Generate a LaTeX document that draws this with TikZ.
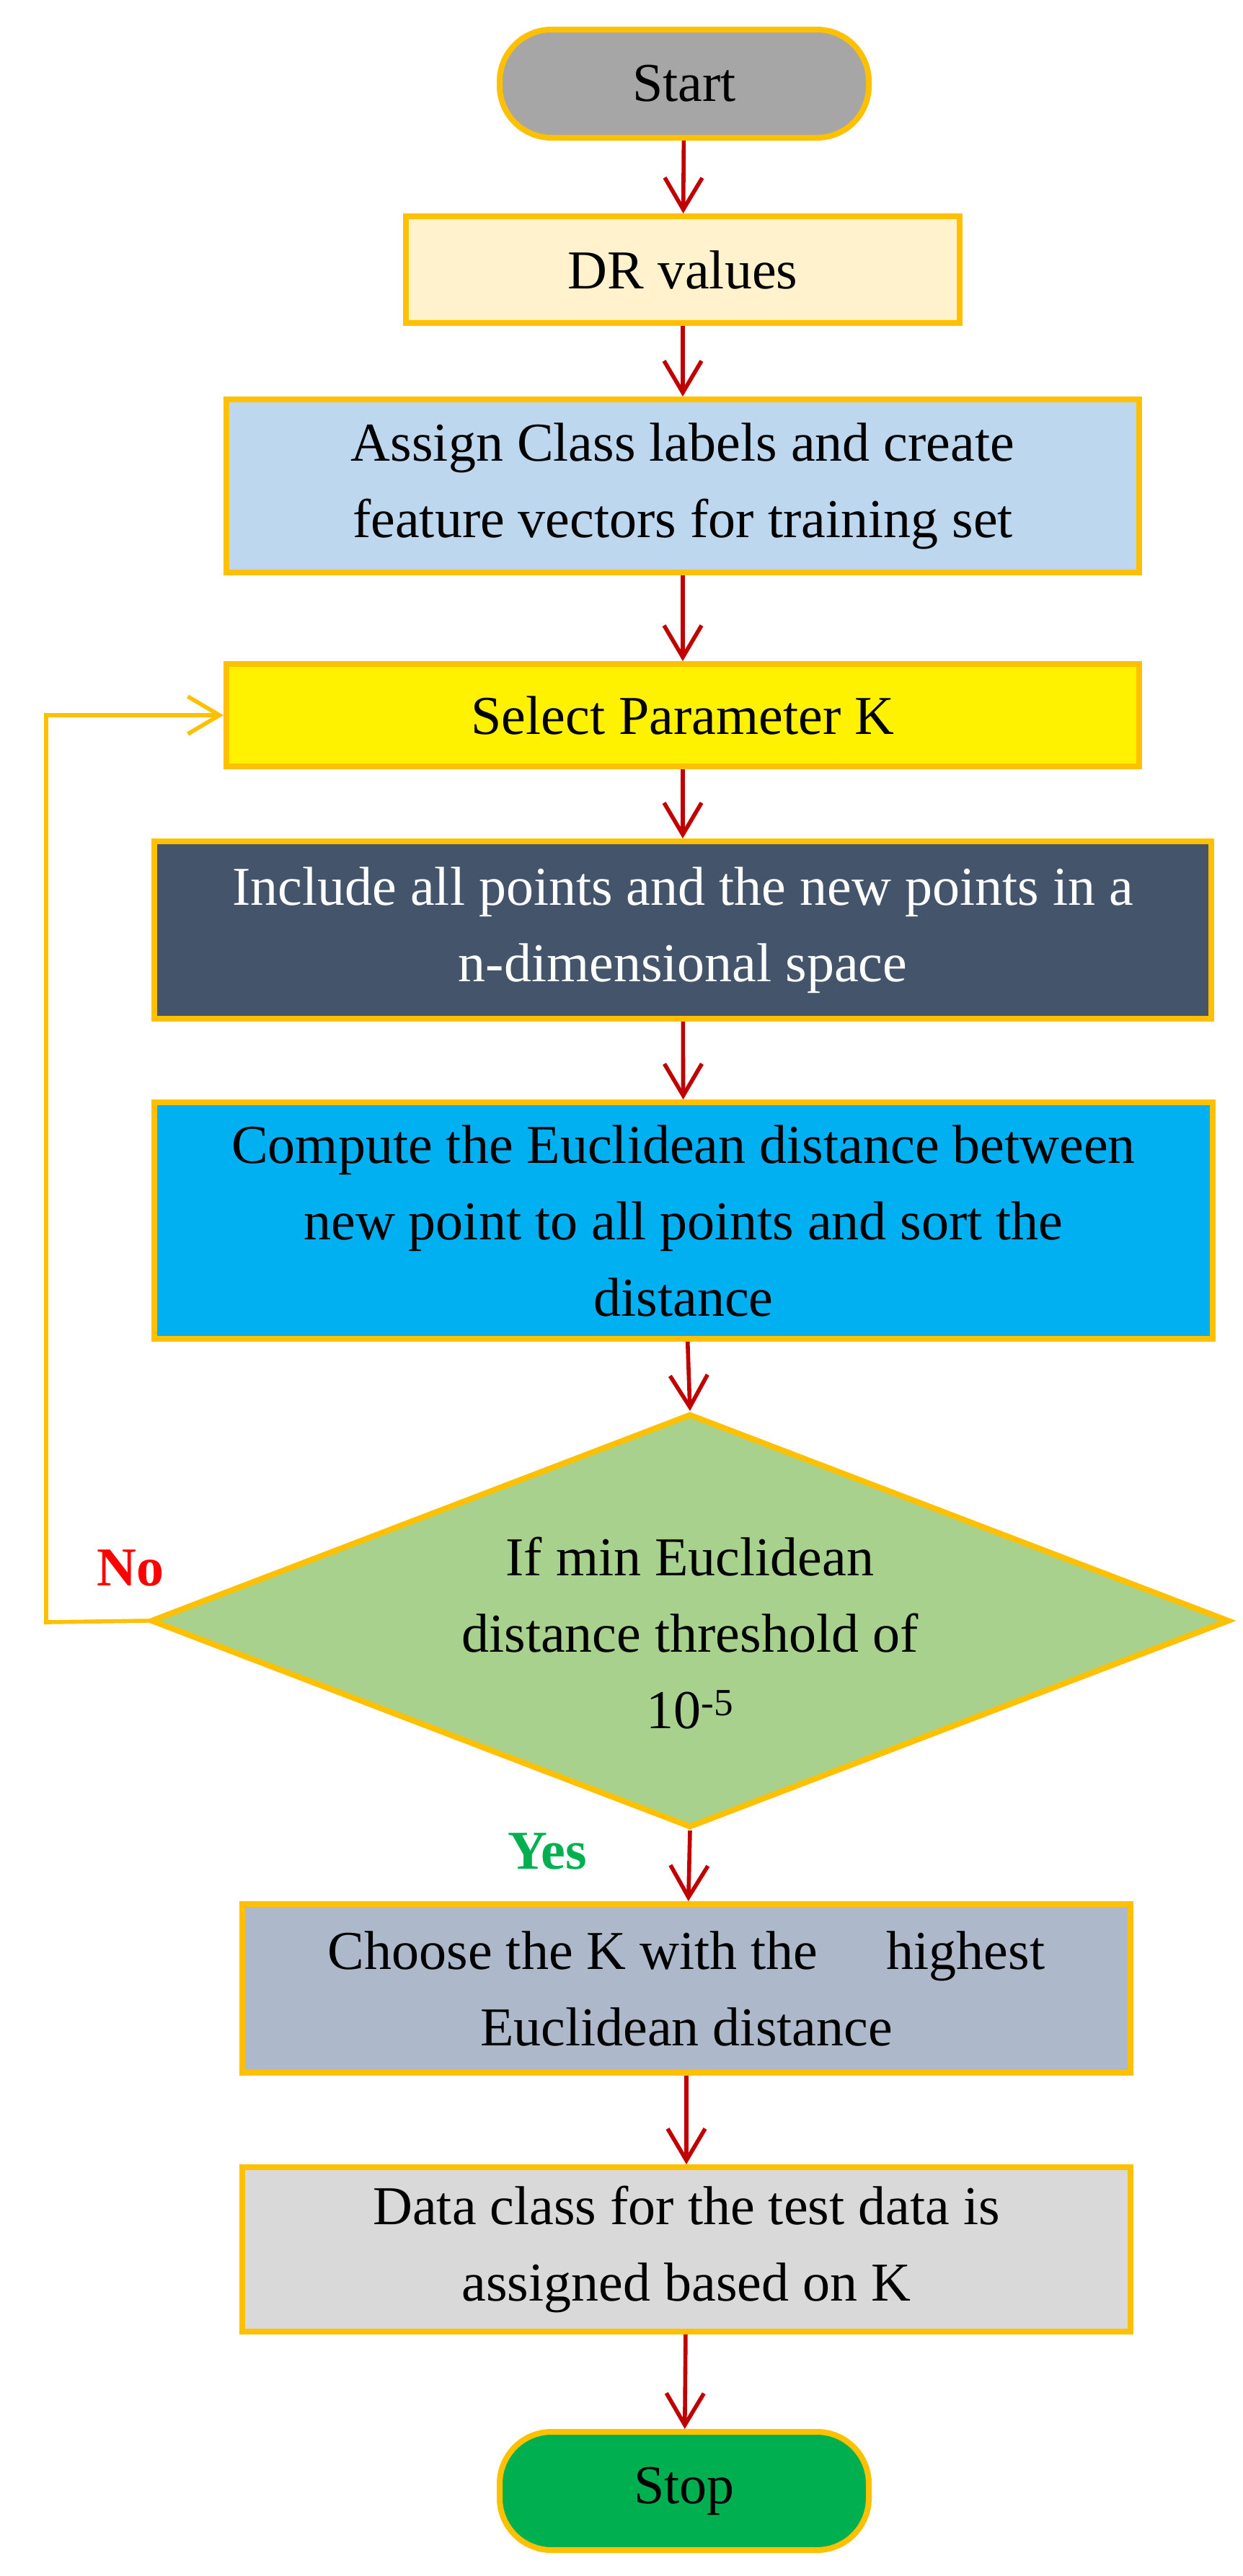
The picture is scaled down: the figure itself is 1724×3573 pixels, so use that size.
\documentclass[tikz,border=0pt]{standalone}
\usepackage{fontspec}
\setmainfont{Liberation Serif}
\usetikzlibrary{arrows.meta,shapes.geometric}
\definecolor{bord}{HTML}{FFC000}
\definecolor{arr}{HTML}{C00000}
\begin{document}
\begin{tikzpicture}[x=0.5pt,y=-0.5pt,
  box/.style={draw=bord,line width=4pt,inner sep=0pt,align=center,font=\fontsize{38}{53}\selectfont},
  term/.style={box,rounded corners=36pt},
  flow/.style={draw=arr,line width=2.8pt,-{Straight Barb[length=22pt,width=26pt,line width=2.8pt]}},
  loop/.style={draw=bord,line width=2.8pt,-{Straight Barb[length=22pt,width=26pt,line width=2.8pt]}}]
\useasboundingbox (0,0) rectangle (1724,3573);
\node[term,fill={rgb,255:red,166;green,166;blue,166},minimum width=256pt,minimum height=75pt] (start) at (949,116) {Start};
\node[box,fill={rgb,255:red,255;green,242;blue,204},minimum width=384pt,minimum height=74pt] (dr) at (947,374) {DR values};
\node[box,fill={rgb,255:red,189;green,215;blue,238},minimum width=633pt,minimum height=120pt] (assign) at (947,674) {Assign Class labels and create\\feature vectors for training set};
\node[box,fill=yellow,minimum width=633pt,minimum height=71pt] (sel) at (947,992) {Select Parameter K};
\node[box,fill={rgb,255:red,68;green,84;blue,106},text=white,minimum width=733pt,minimum height=123pt] (incl) at (947,1290) {Include all points and the new points in a\\n-dimensional space};
\node[box,fill={rgb,255:red,0;green,176;blue,240},minimum width=734pt,minimum height=164pt] (comp) at (948,1693) {Compute the Euclidean distance between\\new point to all points and sort the\\distance};
\node[box,shape=diamond,fill={rgb,255:red,169;green,209;blue,142},minimum width=748pt,minimum height=287pt] (dec) at (957,2248) {};
\node[font=\fontsize{38}{53}\selectfont,align=center] (dectext) at (957,2265) {If min Euclidean\\distance threshold of\\10\textsuperscript{-5}};
\node[box,fill={rgb,255:red,173;green,185;blue,202},minimum width=616pt,minimum height=117pt] (choose) at (952,2758) {Choose the K with the \quad highest\\Euclidean distance};
\node[box,fill={rgb,255:red,217;green,217;blue,217},minimum width=616pt,minimum height=114pt] (data) at (952,3120) {Data class for the test data is\\assigned based on K};
\node[term,fill={rgb,255:red,0;green,176;blue,80},minimum width=256pt,minimum height=82pt] (stop) at (949,3455) {Stop};
\draw[flow] (start) -- (dr);
\draw[flow] (dr) -- (assign);
\draw[flow] (assign) -- (sel);
\draw[flow] (sel) -- (incl);
\draw[flow] (incl) -- (comp);
\draw[flow] (comp) -- (dec.north);
\draw[flow] (dec.south) -- (choose);
\draw[flow] (choose) -- (data);
\draw[flow] (data) -- (stop);
\coordinate (lb) at (64,2250);
\coordinate (lt) at (64,992);
\draw[loop] (dec.west) -- (lb) -- (lt) -- (sel.west);
\node[text=red,font=\bfseries\fontsize{38}{45}\selectfont] (no) at (181,2175) {No};
\node[text={rgb,255:red,0;green,176;blue,80},font=\bfseries\fontsize{38}{45}\selectfont] (yes) at (759,2568) {Yes};
\end{tikzpicture}
\end{document}
